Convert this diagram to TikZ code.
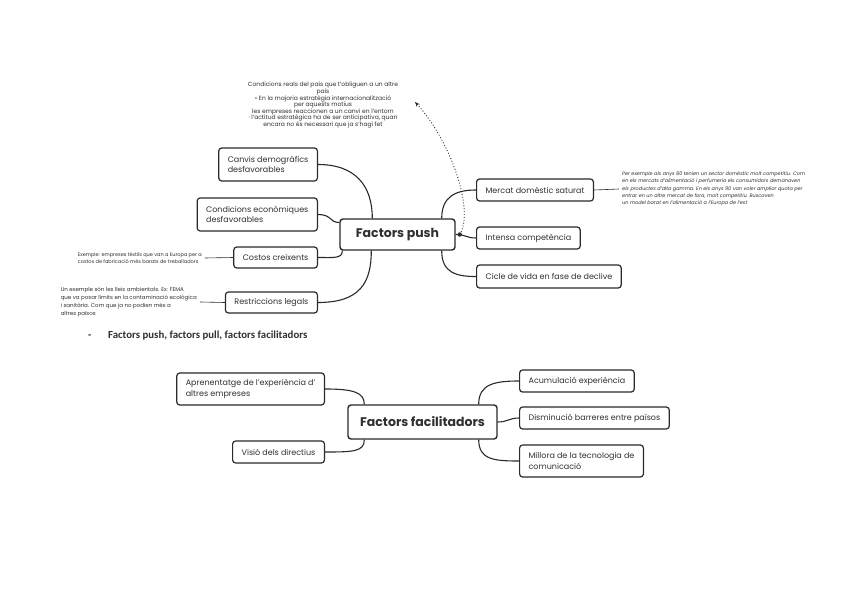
\documentclass[tikz,border=0pt]{standalone}
\usepackage{fontspec}
\setmainfont{Poppins}
\newfontfamily\carl{Carlito}
\usetikzlibrary{arrows.meta}
\definecolor{linec}{HTML}{2B2B2B}
\definecolor{textc}{HTML}{303030}
\newcommand{\boxfont}{\fontsize{8}{10.5}\selectfont}
\newcommand{\hubfont}{\fontsize{12.5}{14}\selectfont\bfseries}
\tikzset{
  box/.style={draw=linec, line width=1.2pt, rounded corners=3pt, fill=white, inner xsep=9pt, inner ysep=2pt, font=\boxfont, text=textc, align=left},
  hub/.style={box, font=\hubfont, align=center, line width=1.4pt, inner xsep=4pt},
  conn/.style={draw=linec, line width=1.1pt},
  note/.style={text=textc, inner xsep=3pt, inner ysep=0pt},
}
\begin{document}
\begin{tikzpicture}[x=1pt,y=-1pt]
\path[use as bounding box, fill=white] (0,0) rectangle (848,599);

% ---------- Factors push ----------
\node[hub, minimum width=115pt, minimum height=31pt] (push) at (397.5,234.5) {Factors push};

\node[box, anchor=east, minimum height=33pt] (canvis) at (318,164.5) {Canvis demogràfics\\desfavorables};
\node[box, anchor=east, minimum height=33pt] (cond) at (318,214.5) {Condicions econòmiques\\desfavorables};
\node[box, anchor=east, minimum height=21pt] (costos) at (318,257.5) {Costos creixents};
\node[box, anchor=east, minimum height=21pt] (restr) at (318,302.5) {Restriccions legals};

\node[box, anchor=west, minimum height=22pt] (mercat) at (476,190) {Mercat domèstic saturat};
\node[box, anchor=west, minimum height=22pt] (intensa) at (476,238) {Intensa competència};
\node[box, anchor=west, minimum height=23pt] (cicle) at (476,276.5) {Cicle de vida en fase de declive};

% notes
\node[note, anchor=north, align=center, font=\fontsize{6}{6.6}\selectfont] (topnote) at (323,82)
 {Condicions reals del país que t'obliguen a un altre\\
  país\\
  • En la majoria estratègia internacionalització\\
  per aquests motius\\
  les empreses reaccionen a un canvi en l'entorn\\
  · l'actitud estratègica ha de ser anticipativa, quan\\
  encara no és necessari que ja s'hagi fet};

\node[note, anchor=west, align=left, font=\fontsize{4.95}{7.3}\selectfont\itshape] (mnote) at (619,189)
 {Per exemple als anys 80 tenien un sector domèstic molt competitiu. Com\\
  en els mercats d'alimentació i perfumeria els consumidors demanaven\\
  els productes d'alta gamma. En els anys 90 van voler ampliar quota per\\
  entrar en un altre mercat de fora, molt competitiu. Buscaven\\
  un model barat en l'alimentació a l'Europa de l'est};

\node[note, anchor=east, align=left, font=\fontsize{5}{7.4}\selectfont] (cnote) at (205,258)
 {Exemple: empreses tèxtils que van a Europa per a\\
  costos de fabricació més barats de treballadors};

\node[note, anchor=east, align=left, font=\fontsize{5.5}{7.8}\selectfont] (rnote) at (200,302)
 {Un exemple són les lleis ambientals. Ex: FEMA\\
  que va posar límits en la contaminació ecològica\\
  i sanitària. Com que ja no podien més a\\
  altres països};

% connectors push
\draw[conn] (canvis.east) .. controls +(38,0) and +(0,-32) .. ([xshift=33pt]push.north west);
\draw[conn] (cond.east) .. controls +(14,0) and +(-10,0) .. ([yshift=12pt]push.west);
\draw[conn] (costos.east) .. controls +(16,0) and +(0,8) .. ([xshift=3pt]push.south west);
\draw[conn] (restr.east) .. controls +(42,0) and +(0,32) .. ([xshift=32pt]push.south west);
\draw[conn] ([xshift=-14pt]push.north east) .. controls +(0,-22) and +(-20,0) .. (mercat.west);
\draw[conn] (push.east) .. controls +(10,0) and +(-10,0) .. (intensa.west);
\draw[conn] ([xshift=-14pt]push.south east) .. controls +(0,22) and +(-20,0) .. (cicle.west);

\draw[draw=linec, line width=0.6pt] (cnote.east) -- (costos.west);
\draw[draw=linec, line width=0.6pt] (rnote.east) -- (restr.west);
\draw[draw=linec, line width=0.6pt] (mercat.east) -- (mnote.west);

% dotted arrow
\coordinate (dotpt) at ([xshift=4pt]push.east);
\coordinate (arrtip) at (415,102);
\draw[linec, line width=0.9pt, dotted, -{Stealth[length=5pt,width=4pt]}] (dotpt) .. controls (475,210) and (450,140) .. (arrtip);
\fill[linec] (dotpt) circle (2.2pt);

% bullet line
\node[anchor=west, inner sep=0pt, text=textc, font=\carl\fontsize{10.8}{12}\selectfont\bfseries] (bullet) at (88,336)
 {\makebox[20pt][l]{-}Factors push, factors pull, factors facilitadors};

% ---------- Factors facilitadors ----------
\node[hub, minimum width=149pt, minimum height=34pt] (fac) at (422.5,422) {Factors facilitadors};

\node[box, anchor=east, minimum height=32pt] (apren) at (325,389) {Aprenentatge de l'experiència d'\\altres empreses};
\node[box, anchor=east, minimum height=22pt] (visio) at (325,452) {Visió dels directius};

\node[box, anchor=west, minimum height=22pt] (acum) at (519,381) {Acumulació experiència};
\node[box, anchor=west, minimum height=22pt] (dism) at (519,418) {Disminució barreres entre països};
\node[box, anchor=west, minimum height=32pt] (mill) at (519,461) {Millora de la tecnologia de\\comunicació};

\draw[conn] (apren.east) .. controls +(28,0) and +(0,-12) .. ([xshift=17pt]fac.north west);
\draw[conn] (visio.east) .. controls +(28,0) and +(0,12) .. ([xshift=17pt]fac.south west);
\draw[conn] ([xshift=-19pt]fac.north east) .. controls +(0,-20) and +(-25,0) .. (acum.west);
\draw[conn] (fac.east) .. controls +(10,0) and +(-10,0) .. (dism.west);
\draw[conn] ([xshift=-19pt]fac.south east) .. controls +(0,20) and +(-25,0) .. (mill.west);
\end{tikzpicture}
\end{document}
